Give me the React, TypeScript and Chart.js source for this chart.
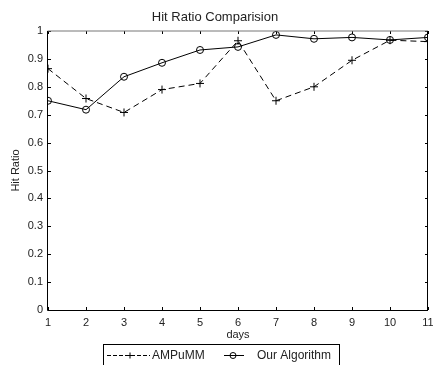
import React, { useEffect, useRef } from "react";
import { Chart, registerables } from "chart.js";

Chart.register(...registerables);

const days = [1, 2, 3, 4, 5, 6, 7, 8, 9, 10, 11];
const ampumm = [0.865, 0.758, 0.708, 0.79, 0.812, 0.965, 0.75, 0.8, 0.895, 0.967, 0.962];
const ourAlgorithm = [0.75, 0.718, 0.836, 0.886, 0.932, 0.943, 0.986, 0.972, 0.977, 0.968, 0.977];
const seriesLabels = ["AMPuMM", "Our Algorithm"];
const titleText = "Hit Ratio Comparision";
const xTitle = "days";
const yTitle = "Hit Ratio";

const FONT = "'Liberation Sans', Arial, sans-serif";
const TEXT = "#222";

const framePlugin = {
  id: "frame",
  afterDatasetsDraw(chart: any) {
    const { ctx, chartArea, scales } = chart;
    const { left, right, top, bottom } = chartArea;
    ctx.save();
    ctx.strokeStyle = "#000";
    ctx.lineWidth = 1;
    ctx.setLineDash([]);
    const tl = 3;
    ctx.beginPath();
    scales.x.ticks.forEach((t: any) => {
      const px = Math.round(scales.x.getPixelForValue(t.value)) + 0.5;
      ctx.moveTo(px, bottom);
      ctx.lineTo(px, bottom - tl);
      ctx.moveTo(px, top);
      ctx.lineTo(px, top + tl);
    });
    scales.y.ticks.forEach((t: any) => {
      const py = Math.round(scales.y.getPixelForValue(t.value)) + 0.5;
      ctx.moveTo(left, py);
      ctx.lineTo(left + tl, py);
      ctx.moveTo(right, py);
      ctx.lineTo(right - tl, py);
    });
    ctx.stroke();
    ctx.strokeStyle = "#777";
    ctx.beginPath();
    ctx.moveTo(left - 0.5, top);
    ctx.lineTo(right, top);
    ctx.stroke();
    ctx.strokeStyle = "#000";
    ctx.beginPath();
    ctx.moveTo(left - 0.5, top);
    ctx.lineTo(left - 0.5, bottom + 0.5);
    ctx.lineTo(right - 0.5, bottom + 0.5);
    ctx.lineTo(right - 0.5, top);
    ctx.stroke();
    ctx.restore();
  },
  afterDraw(chart: any) {
    const { ctx } = chart;
    ctx.save();
    ctx.strokeStyle = "#000";
    ctx.lineWidth = 1;
    ctx.setLineDash([]);
    ctx.strokeRect(103.5, 344.5, 236, 40);
    const entries = [
      { x0: 107, x1: 150, mx: 130, tx: 152 },
      { x0: 224, x1: 244, mx: 233, tx: 257 },
    ];
    const y = 355.5;
    chart.data.datasets.forEach((ds: any, i: number) => {
      const e = entries[i];
      ctx.beginPath();
      ctx.setLineDash(ds.borderDash ? [4, 2] : []);
      ctx.moveTo(e.x0, y);
      ctx.lineTo(e.x1, y);
      ctx.stroke();
      ctx.setLineDash([]);
      ctx.beginPath();
      if (ds.pointStyle === "cross") {
        ctx.moveTo(e.mx - 3, y);
        ctx.lineTo(e.mx + 3, y);
        ctx.moveTo(e.mx, y - 3);
        ctx.lineTo(e.mx, y + 3);
      } else {
        ctx.arc(e.mx, y, 3, 0, Math.PI * 2);
      }
      ctx.stroke();
      ctx.fillStyle = TEXT;
      ctx.font = `12px ${FONT}`;
      ctx.textBaseline = "middle";
      ctx.textAlign = "left";
      ctx.fillText(ds.label, e.tx, y);
    });
    ctx.restore();
  },
};

export default function App() {
  const ref = useRef<HTMLCanvasElement>(null);
  useEffect(() => {
    if (!ref.current) return;
    const chart = new Chart(ref.current, {
      type: "line",
      data: {
        labels: days,
        datasets: [
          {
            label: seriesLabels[0],
            data: days.map((d, i) => ({ x: d, y: ampumm[i] })),
            borderColor: "#000",
            borderWidth: 1,
            borderDash: [6, 4],
            pointStyle: "cross",
            pointRadius: 4,
            pointBorderColor: "#000",
            pointBorderWidth: 1,
            pointBackgroundColor: "transparent",
            tension: 0,
            clip: 0,
          },
          {
            label: seriesLabels[1],
            data: days.map((d, i) => ({ x: d, y: ourAlgorithm[i] })),
            borderColor: "#000",
            borderWidth: 1,
            pointStyle: "circle",
            pointRadius: 3.5,
            pointBorderColor: "#000",
            pointBorderWidth: 1,
            pointBackgroundColor: "transparent",
            tension: 0,
            clip: 0,
          },
        ],
      },
      options: {
        animation: false,
        responsive: false,
        devicePixelRatio: 1,
        layout: { padding: { left: 0, right: 3, top: 0, bottom: 0 } },
        plugins: {
          legend: { display: false },
          tooltip: { enabled: false },
          title: {
            display: true,
            text: titleText,
            color: TEXT,
            font: { family: FONT, size: 13, weight: "normal" },
            padding: { top: 10, bottom: 5.4 },
          },
        },
        scales: {
          x: {
            type: "linear",
            min: 1,
            max: 11,
            grid: { display: false, drawTicks: false },
            border: { display: false },
            ticks: {
              stepSize: 1,
              padding: 6,
              color: TEXT,
              font: { family: FONT, size: 11 },
              maxRotation: 0,
              autoSkip: false,
            },
            title: {
              display: true,
              text: xTitle,
              color: TEXT,
              font: { family: FONT, size: 11 },
              padding: { top: 0, bottom: 23.5 },
            },
            afterFit: (s: any) => {
              s.height = 55;
              s.paddingLeft = 0;
              s.paddingRight = 0;
            },
          },
          y: {
            type: "linear",
            min: 0,
            max: 1,
            grid: { display: false, drawTicks: false },
            border: { display: false },
            ticks: {
              stepSize: 0.1,
              padding: 5,
              color: TEXT,
              font: { family: FONT, size: 11 },
              callback: (v: any) => {
                const n = Math.round(Number(v) * 10) / 10;
                return n === 0 || n === 1 ? String(n) : n.toFixed(1);
              },
            },
            title: {
              display: true,
              text: yTitle,
              color: TEXT,
              font: { family: FONT, size: 11 },
              padding: { top: 9, bottom: 0 },
            },
            afterFit: (s: any) => {
              s.width = 48;
              s.paddingTop = 0;
              s.paddingBottom = 0;
            },
          },
        },
      } as any,
      plugins: [framePlugin],
    });
    return () => chart.destroy();
  }, []);
  return (
    <div style={{ position: "fixed", left: 0, top: 0, width: 433, height: 365, background: "#fff" }}>
      <canvas ref={ref} width={433} height={365} style={{ width: 433, height: 365, display: "block" }} />
    </div>
  );
}
